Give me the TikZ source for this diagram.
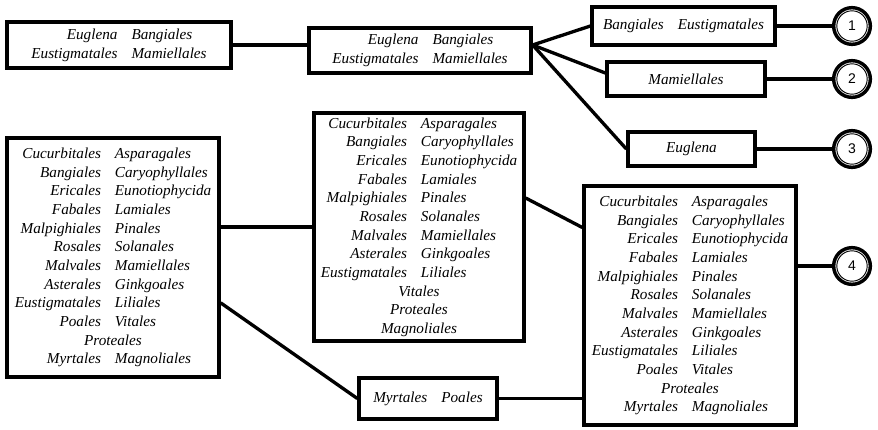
\documentclass[tikz,border=0pt]{standalone}
\usepackage{fontspec}
\setmainfont{Liberation Serif}
\newfontfamily\numfont{Liberation Sans}
\newcommand{\clade}[1]{\begin{tabular}{@{}r@{\hspace{10.5pt}}l@{}}#1\end{tabular}}
\newcommand{\single}[1]{\multicolumn{2}{c}{#1}}
\begin{document}
\begin{tikzpicture}[x=0.75pt,y=-0.75pt,
    taxbox/.style={draw, line width=2.5pt, inner sep=0pt, align=center,
      font=\fontsize{11.4}{14}\selectfont\itshape},
    leaf/.style={circle, draw, line width=2.6pt, minimum size=27.5pt, inner sep=0pt,
      font=\numfont\fontsize{10.5}{12}\selectfont,
      path picture={\draw[line width=0.7pt] (path picture bounding box.center) circle (11.4pt);}}]
  \useasboundingbox (0,0) rectangle (878,429);
  \draw
    (119,45) node[taxbox, minimum width=168pt, minimum height=34.5pt] (all4)
      {\clade{Euglena & Bangiales\\ Eustigmatales & Mamiellales}}
    (420,50.5) node[taxbox, minimum width=166.5pt, minimum height=33.75pt] (split)
      {\clade{Euglena & Bangiales\\ Eustigmatales & Mamiellales}}
    (683.5,26) node[taxbox, minimum width=137.25pt, minimum height=28.5pt] (bangeust)
      {\clade{Bangiales & Eustigmatales}}
    (686,79) node[taxbox, minimum width=118.5pt, minimum height=25.5pt] (mamiel) {Mamiellales}
    (691.5,149) node[taxbox, minimum width=95.25pt, minimum height=25.5pt] (eugl) {Euglena}
    (113,257.5) node[taxbox, minimum width=159pt, minimum height=179.25pt] (pool)
      {\clade{Cucurbitales & Asparagales\\ Bangiales & Caryophyllales\\
        Ericales & Eunotiophycida\\ Fabales & Lamiales\\ Malpighiales & Pinales\\
        Rosales & Solanales\\ Malvales & Mamiellales\\ Asterales & Ginkgoales\\
        Eustigmatales & Liliales\\ Poales & Vitales\\ \single{Proteales}\\
        Myrtales & Magnoliales}}
    (419,227) node[taxbox, minimum width=157.5pt, minimum height=171pt] (core)
      {\clade{Cucurbitales & Asparagales\\ Bangiales & Caryophyllales\\
        Ericales & Eunotiophycida\\ Fabales & Lamiales\\ Malpighiales & Pinales\\
        Rosales & Solanales\\ Malvales & Mamiellales\\ Asterales & Ginkgoales\\
        Eustigmatales & Liliales\\ \single{Vitales}\\ \single{Proteales}\\
        \single{Magnoliales}}}
    (690,305.5) node[taxbox, minimum width=159pt, minimum height=179.25pt] (whole)
      {\clade{Cucurbitales & Asparagales\\ Bangiales & Caryophyllales\\
        Ericales & Eunotiophycida\\ Fabales & Lamiales\\ Malpighiales & Pinales\\
        Rosales & Solanales\\ Malvales & Mamiellales\\ Asterales & Ginkgoales\\
        Eustigmatales & Liliales\\ Poales & Vitales\\ \single{Proteales}\\
        Myrtales & Magnoliales}}
    (428,398.5) node[taxbox, minimum width=103.5pt, minimum height=30.75pt] (myrpo)
      {\clade{Myrtales & Poales}}
    (852,26) node[leaf] (end1) {1}
    (852,79) node[leaf] (end2) {2}
    (852,149) node[leaf] (end3) {3}
    (852,266) node[leaf] (end4) {4};
  \coordinate (fan) at (split.east |- all4.east);
  \begin{scope}[line width=2.5pt]
    \draw (all4.east) to (all4.east -| split.west);
    \draw (fan) to (bangeust.west);
    \draw (fan) to ([yshift=4.5pt]mamiel.west);
    \draw (fan) to (eugl.west);
    \draw (bangeust) to (end1);
    \draw (mamiel) to (end2);
    \draw (eugl) to (end3);
    \draw (whole.east |- end4) to (end4);
    \draw (pool.east |- core.west) to (core.west);
    \draw ([yshift=21.75pt]core.east) to ([yshift=58.5pt]whole.west);
    \draw ([yshift=-34pt]pool.east) to (myrpo.west);
    \draw (myrpo.east) to (myrpo.east -| whole.west);
  \end{scope}
\end{tikzpicture}
\end{document}
